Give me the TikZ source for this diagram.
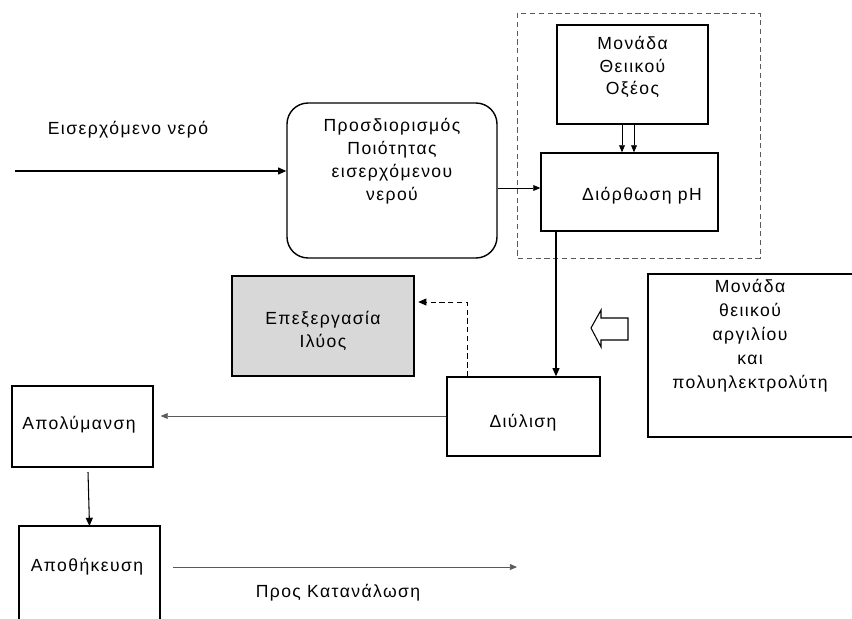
\documentclass[tikz,border=0pt]{standalone}
\usepackage{fontspec}
\setmainfont{Liberation Sans}[LetterSpace=8]
\usepackage{tikz}
\usetikzlibrary{arrows.meta}
\definecolor{sludgegray}{RGB}{216,216,216}
\definecolor{linegray}{RGB}{90,90,90}
\tikzset{unit box/.style={draw, line width=1.2pt, inner sep=0pt}}
\tikzset{flow/.style={-{Triangle[length=7pt,width=6pt]}, line width=0.9pt}}
\tikzset{thin flow/.style={-{Triangle[length=6pt,width=5pt]}, line width=0.6pt, draw=linegray}}
\tikzset{box text/.style={align=center, inner sep=0pt, font=\fontsize{15}{19.5}\selectfont}}
\tikzset{long dashes/.style={dash pattern=on 4.5pt off 3pt}}

\begin{document}
\begin{tikzpicture}[x=0.03cm, y=-0.03cm]

\path[use as bounding box] (0,0) rectangle (852,618);

%% blocks
\node [unit box, rounded corners=18pt, minimum width=210*0.03cm, minimum height=155*0.03cm] (quality) at (392,180.5) {};
\node [box text, anchor=north] (quality_text) at (392,118) {Προσδιορισμός\\Ποιότητας\\εισερχόμενου\\νερού};
\draw[long dashes, line width=0.7pt, draw=linegray] (517,13) rectangle (760,258);
\node [unit box, minimum width=151*0.03cm, minimum height=99*0.03cm] (acid) at (632.5,74.5) {};
\node [box text] (acid_text) at (632.5,67) {Μονάδα\\Θειικού\\Οξέος};
\node [unit box, minimum width=177*0.03cm, minimum height=78*0.03cm] (ph_fix) at (629.5,192) {};
\node [box text] (ph_text) at (642,196) {Διόρθωση pH};
\node [unit box, fill=sludgegray, minimum width=182*0.03cm, minimum height=100*0.03cm] (sludge) at (323,326) {};
\node [box text] (sludge_text) at (323,331) {Επεξεργασία\\Ιλύος};
\node [unit box, minimum width=153*0.03cm, minimum height=79*0.03cm] (filtration) at (523.5,416.5) {};
\node [box text] (filtration_text) at (523,423) {Διύλιση};
\draw[line width=1.2pt] (852,274) -- (648,274) -- (648,437) -- (852,437);
\node [box text, anchor=north, font=\fontsize{15}{20.5}\selectfont] (alum_text) at (750,279) {Μονάδα\\θειικού\\αργιλίου\\και\\πολυηλεκτρολύτη};
\node [unit box, minimum width=141*0.03cm, minimum height=81*0.03cm] (disinfect) at (82.5,426.5) {};
\node [box text] (disinfect_text) at (79,425) {Απολύμανση};
\draw[line width=1.2pt] (19,620) -- (19,526) -- (160,526) -- (160,620);
\coordinate (storage) at (89.5,526);
\node [box text] (storage_text) at (87,567) {Αποθήκευση};

%% flows
\coordinate (inflow_start) at (15,171);
\node [box text] (inflow_label) at (128,130) {Εισερχόμενο νερό};
\draw[flow] (inflow_start) -- (quality.west |- inflow_start);
\draw[thin flow, draw=black] (quality.east |- 0,188) -- (ph_fix.west |- 0,188);
\draw[thin flow, draw=black] (acid.south -| 622,0) -- (ph_fix.north -| 622,0);
\draw[thin flow, draw=black] (acid.south -| 634,0) -- (ph_fix.north -| 634,0);
\draw[flow] (ph_fix.south -| 556,0) -- (filtration.north -| 556,0);
\draw[flow, long dashes, line width=0.8pt] (filtration.north -| 467,0) -- (467,302) -- ([xshift=3pt]sludge.east |- 0,302);
\draw[thin flow] (filtration.west |- 0,416) -- ([xshift=7*0.03cm]disinfect.east |- 0,416);
\draw[flow] (88,472) -- (storage);
\coordinate (consumption) at (517,567);
\draw[thin flow] (173,567) -- (consumption);
\node [box text] (consumption_label) at (338,593) {Προς Κατανάλωση};

%% hollow arrow from the alum unit
\draw[line width=0.9pt, fill=white] (591,328) -- (601,310) -- (601,318) -- (628,318) -- (628,340) -- (601,340) -- (601,347) -- cycle;

\end{tikzpicture}
\end{document}
